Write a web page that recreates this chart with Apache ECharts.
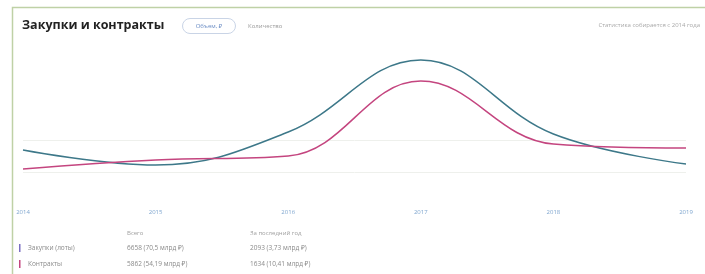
<!DOCTYPE html>
<html>
<head>
<meta charset="utf-8">
<script src="https://cdn.jsdelivr.net/npm/echarts@6/dist/echarts.min.js"></script>
<style>
  html, body { margin: 0; padding: 0; background: #fff; }
  #chart { width: 705px; height: 274px; }
</style>
</head>
<body>
<div id="chart"></div>
<script>
// годы по оси X
const years = ['2014', '2015', '2016', '2017', '2018', '2019']
// значения (относительная шкала)
const purchases = [22, 7, 40, 112, 38, 8]
const contracts = [3, 12, 16, 91, 28, 24]

const tableHead = ['Всего', 'За последний год']
const rowNames = ['Закупки (лоты)', 'Контракты']
const rowTotal = ['6658 (70,5 млрд ₽)', '5862 (54,19 млрд ₽)']
const rowLastYear = ['2093 (3,73 млрд ₽)', '1634 (10,41 млрд ₽)']

const colors = ['#3d7889', '#c4457f']
const textFont = '"Open Sans", "Noto Sans", sans-serif'

const chart = echarts.init(document.getElementById('chart'))

const graphic = [
  // рамка блока
  {
    type: 'polyline',
    shape: { points: [[12.5, 274], [12.5, 7.5], [705, 7.5]] },
    style: { stroke: '#bfd1a6', lineWidth: 1.5, fill: null }
  },
  {
    type: 'text', x: 22, y: 25,
    style: { text: 'Закупки и контракты', fill: '#222', font: 'bold 12.5px ' + textFont, verticalAlign: 'middle' }
  },
  {
    type: 'rect',
    shape: { x: 182.5, y: 18.5, width: 53, height: 15, r: 8 },
    style: { fill: '#fff', stroke: '#c9d4e6', lineWidth: 1 }
  },
  {
    type: 'text', x: 209, y: 26,
    style: { text: 'Объем, ₽', fill: '#6a8cc4', font: '6px ' + textFont, align: 'center', verticalAlign: 'middle' }
  },
  {
    type: 'text', x: 248, y: 26,
    style: { text: 'Количество', fill: '#9a9a9a', font: '6px ' + textFont, verticalAlign: 'middle' }
  },
  {
    type: 'text', x: 700, y: 25,
    style: { text: 'Статистика собирается с 2014 года', fill: '#a8a8a8', font: '6px ' + textFont, align: 'right', verticalAlign: 'middle' }
  }
]

// таблица под графиком
const colX = [127, 250]
tableHead.forEach((t, i) => {
  graphic.push({
    type: 'text', x: colX[i], y: 233,
    style: { text: t, fill: '#a0a0a0', font: '6px ' + textFont, verticalAlign: 'middle' }
  })
})
rowNames.forEach((name, i) => {
  const y = 248 + i * 16
  graphic.push({
    type: 'rect', shape: { x: 19, y: y - 4, width: 1.5, height: 8 },
    style: { fill: i === 0 ? '#7a6fc2' : colors[1] }
  })
  graphic.push({
    type: 'text', x: 28, y: y,
    style: { text: name, fill: '#8a8a8a', font: '6.5px ' + textFont, verticalAlign: 'middle' }
  })
  graphic.push({
    type: 'text', x: colX[0], y: y,
    style: { text: rowTotal[i], fill: '#8a8a8a', font: '6.5px ' + textFont, verticalAlign: 'middle' }
  })
  graphic.push({
    type: 'text', x: colX[1], y: y,
    style: { text: rowLastYear[i], fill: '#8a8a8a', font: '6.5px ' + textFont, verticalAlign: 'middle' }
  })
})

const options = {
  animation: false,
  grid: {
    top: 44,
    bottom: 102,
    left: 23,
    right: 19
  },
  xAxis: {
    type: 'category',
    data: years,
    boundaryGap: false,
    axisLine: { show: false },
    axisTick: { show: false },
    axisLabel: {
      margin: 37,
      color: '#7fa6cf',
      fontSize: 6,
      fontFamily: textFont
    }
  },
  yAxis: {
    type: 'value',
    min: 0,
    max: 128,
    interval: 32,
    axisLabel: { show: false },
    axisLine: { show: false },
    axisTick: { show: false },
    splitLine: {
      show: true,
      lineStyle: {
        color: ['#eef0ec', '#eef0ec', 'rgba(0,0,0,0)', 'rgba(0,0,0,0)', 'rgba(0,0,0,0)'],
        width: 1
      }
    }
  },
  series: [
    {
      name: 'Закупки',
      type: 'line',
      data: purchases,
      smooth: 0.4,
      symbol: 'none',
      lineStyle: { color: colors[0], width: 1.5 }
    },
    {
      name: 'Контракты',
      type: 'line',
      data: contracts,
      smooth: 0.4,
      symbol: 'none',
      lineStyle: { color: colors[1], width: 1.5 }
    }
  ],
  graphic: graphic
}

chart.setOption(options)
</script>
</body>
</html>
